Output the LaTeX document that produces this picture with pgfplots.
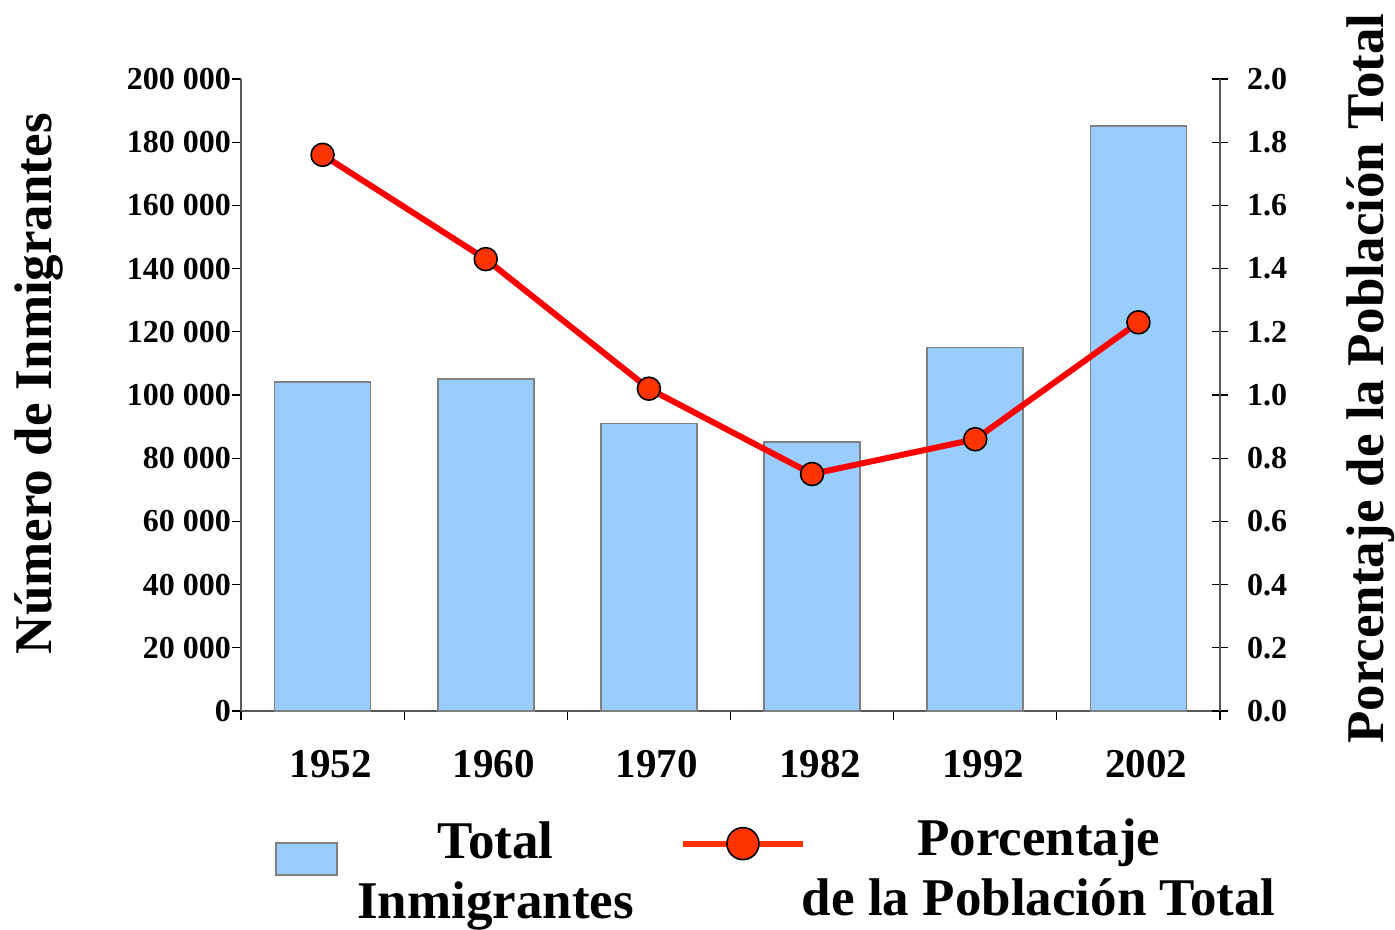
\documentclass[border=0pt]{standalone}
\usepackage{fontspec}
\setmainfont{Liberation Serif}
\usepackage{pgfplots}
\pgfplotsset{compat=1.18}
\definecolor{barblue}{HTML}{99CCFF}
\definecolor{baredge}{HTML}{808080}
\definecolor{linered}{HTML}{FF0000}
\definecolor{markred}{HTML}{FF3300}
\begin{document}
\begin{tikzpicture}
\begin{axis}[
  at={(0,0)}, anchor=south west,
  scale only axis, width=489.5pt, height=316pt,
  xmin=-0.5, xmax=5.5, ymin=0, ymax=200000,
  axis x line*=bottom, axis y line*=left,
  axis line style={black!65, line width=0.6pt},
  every tick/.style={black, line width=0.6pt},
  tick align=outside,
  major tick length=4.5pt, minor tick length=4.5pt,
  ytick={0,20000,40000,60000,80000,100000,120000,140000,160000,180000,200000},
  scaled y ticks=false,
  xtick={0,1,2,3,4,5},
  xticklabels={1952,1960,1970,1982,1992,2002},
  minor xtick={-0.5,0.5,1.5,2.5,3.5,4.5,5.5},
  major x tick style={draw=none},
  xticklabel style={font=\fontsize{20.5}{20.5}\selectfont\bfseries, yshift=-11.5pt, xshift=4pt},
  yticklabel style={font=\fontsize{16}{16}\selectfont\bfseries, xshift=3pt},
  y tick label style={/pgf/number format/fixed, /pgf/number format/1000 sep={\ }, /pgf/number format/assume math mode=true},
  ylabel={Número de Inmigrantes},
  every axis y label/.style={at={(axis description cs:-0.2064,0.518)}, anchor=center, rotate=90, font=\fontsize{26.5}{26.5}\selectfont\bfseries},
]
\addplot[ybar, bar width=48pt, fill=barblue, draw=baredge, line width=0.9pt]
  coordinates {(0,104000) (1,105000) (2,91000) (3,85000) (4,115000) (5,185000)};
\end{axis}
\begin{axis}[
  at={(0,0)}, anchor=south west,
  scale only axis, width=489.5pt, height=316pt,
  xmin=-0.5, xmax=5.5, ymin=0, ymax=2,
  axis x line=none, axis y line*=right,
  axis line style={black!65, line width=0.6pt},
  every tick/.style={black, line width=0.6pt},
  tick align=center, major tick length=8pt,
  ytick={0,0.2,0.4,0.6,0.8,1,1.2,1.4,1.6,1.8,2},
  yticklabel style={font=\fontsize{16}{16}\selectfont\bfseries, xshift=6pt},
  y tick label style={/pgf/number format/fixed, /pgf/number format/fixed zerofill, /pgf/number format/precision=1, /pgf/number format/assume math mode=true},
  ylabel={Porcentaje de la Población Total},
  every axis y label/.style={at={(axis description cs:1.1542,0.526)}, anchor=center, rotate=90, font=\fontsize{26.5}{26.5}\selectfont\bfseries},
  legend columns=2,
  legend style={draw=none, fill=none, at={(axis description cs:0.0347,-0.1614)}, anchor=north west,
    column sep=0pt, row sep=0pt, inner sep=0pt,
    nodes={inner sep=0pt, font=\fontsize{26.5}{30}\selectfont\bfseries}},
]
\addlegendimage{legend image code/.code={\draw[fill=barblue, draw=baredge, line width=0.9pt] (0pt,-10pt) rectangle (30.5pt,6pt);}}
\addlegendentry{\rule{9.5pt}{0pt}\begin{tabular}{@{}c@{}}Total\\Inmigrantes\end{tabular}\rule{23pt}{0pt}}
\addplot[linered, line width=3pt, mark=*, mark size=5.75pt,
  mark options={fill=markred, draw=black, line width=0.8pt},
  legend image code/.code={\draw[markred, line width=3pt] (0pt,5.5pt) -- (60pt,5.5pt); \draw[fill=markred, draw=black, line width=0.8pt] (30pt,5.5pt) circle (8pt);}]
  coordinates {(0,1.76) (1,1.43) (2,1.02) (3,0.75) (4,0.86) (5,1.23)};
\addlegendentry{\kern-2pt\raisebox{3.5pt}{\begin{tabular}{@{}c@{}}Porcentaje\\de la Población Total\end{tabular}}}
\end{axis}
\pgfresetboundingbox
\path (-120.5pt,-109.5pt) rectangle (577pt,355.5pt);
\end{tikzpicture}
\end{document}
